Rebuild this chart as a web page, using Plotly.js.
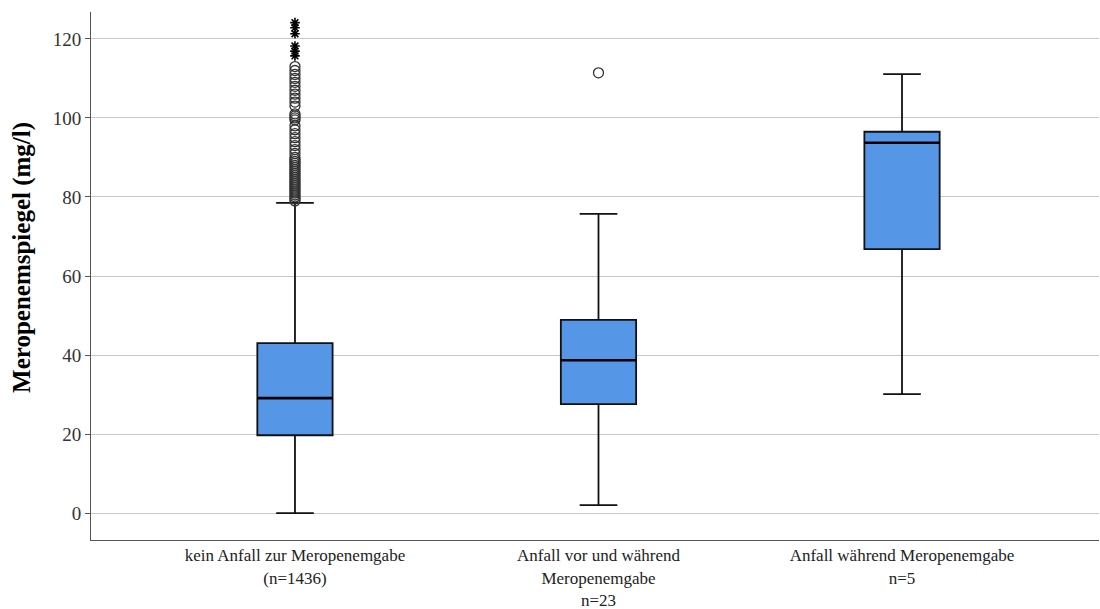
<!DOCTYPE html>
<html>
<head>
<meta charset="utf-8">
<script src="https://cdn.plot.ly/plotly-3.0.1.min.js"></script>
<style>html,body{margin:0;padding:0;background:#fff;}#chart{width:1100px;height:609px;}</style>
</head>
<body>
<div id="chart"></div>
<script>
const categories = ["kein Anfall zur Meropenemgabe<br>(n=1436)", "Anfall vor und während<br>Meropenemgabe<br>n=23", "Anfall während Meropenemgabe<br>n=5"];
const positions = [0, 1, 2];
const q1 = [19.7, 27.6, 66.8];
const medians = [29.1, 38.7, 93.7];
const q3 = [43.0, 48.9, 96.5];
const lowerWhisker = [0.0, 2.0, 30.1];
const upperWhisker = [78.5, 75.7, 111.1];
const outliersG1 = [79, 79.5, 80, 80.5, 81, 81.5, 82, 82.5, 83, 83.5, 84, 84.5, 85, 85.5, 86, 86.5, 87, 87.5, 88, 88.5, 89, 89.5, 90, 91, 92, 93, 94, 95, 96, 97, 98, 99.5, 100, 100.5, 101, 103, 104, 105, 106, 107, 108, 109, 110, 111, 112, 113];
const extremesG1 = [124.1, 122.8, 121.3, 118.2, 116.9, 115.7];
const outliersG2 = [111.4];
const yTicks = [0, 20, 40, 60, 80, 100, 120];
const yTitle = "Meropenemspiegel (mg/l)";

const boxWidth = 0.248;
const serif = "Liberation Serif";

const traces = [];
traces.push({
  type: "box",
  x: positions,
  q1: q1, median: medians, q3: q3,
  lowerfence: lowerWhisker, upperfence: upperWhisker,
  width: boxWidth,
  whiskerwidth: 0.5,
  boxpoints: false,
  fillcolor: "#5596E6",
  line: {color: "#111111", width: 1.8},
  hoverinfo: "none",
  showlegend: false
});
positions.forEach((p, i) => {
  traces.push({
    type: "scatter", mode: "lines",
    x: [p - boxWidth / 2, p + boxWidth / 2],
    y: [medians[i], medians[i]],
    line: {color: "#000", width: 2.6},
    hoverinfo: "none", showlegend: false
  });
});
traces.push({
  type: "scatter", mode: "markers",
  x: outliersG1.map(() => positions[0]),
  y: outliersG1,
  marker: {symbol: "circle-open", size: 10, color: "#333", line: {width: 1.3, color: "#333"}},
  hoverinfo: "none", showlegend: false
});
traces.push({
  type: "scatter", mode: "markers",
  x: outliersG2.map(() => positions[1]),
  y: outliersG2,
  marker: {symbol: "circle-open", size: 10, color: "#333", line: {width: 1.3, color: "#333"}},
  hoverinfo: "none", showlegend: false
});
traces.push({
  type: "scatter", mode: "markers",
  x: extremesG1.map(() => positions[0]),
  y: extremesG1,
  marker: {symbol: "asterisk-open", size: 8, color: "#000", line: {width: 1.6, color: "#000"}},
  hoverinfo: "none", showlegend: false
});

const layout = {
  width: 1100, height: 609,
  margin: {l: 91, r: 1, t: 12, b: 69},
  paper_bgcolor: "#fff", plot_bgcolor: "#fff",
  font: {family: serif, size: 17, color: "#222"},
  showlegend: false,
  xaxis: {
    range: [-0.672, 2.649],
    tickmode: "array", tickvals: positions, ticktext: categories,
    showgrid: false, zeroline: false,
    showline: true, linecolor: "#555", linewidth: 1,
    ticks: "", tickfont: {family: serif, size: 17, color: "#222"},
    fixedrange: true
  },
  yaxis: {
    range: [-6.8, 126.8],
    tickmode: "array", tickvals: yTicks,
    showgrid: true, gridcolor: "#c8c8c8", gridwidth: 1,
    zeroline: false,
    showline: true, linecolor: "#555", linewidth: 1,
    ticks: "outside", ticklen: 5, tickcolor: "#555",
    tickfont: {family: serif, size: 19, color: "#333"},
    fixedrange: true
  },
  annotations: [{
    text: "<b>" + yTitle + "</b>",
    xref: "paper", yref: "paper",
    x: -0.0685, y: 0.536,
    xanchor: "center", yanchor: "middle",
    textangle: -90, showarrow: false,
    font: {family: serif, size: 25, color: "#000"}
  }]
};

Plotly.newPlot("chart", traces, layout, {displayModeBar: false, staticPlot: true});
</script>
</body>
</html>
